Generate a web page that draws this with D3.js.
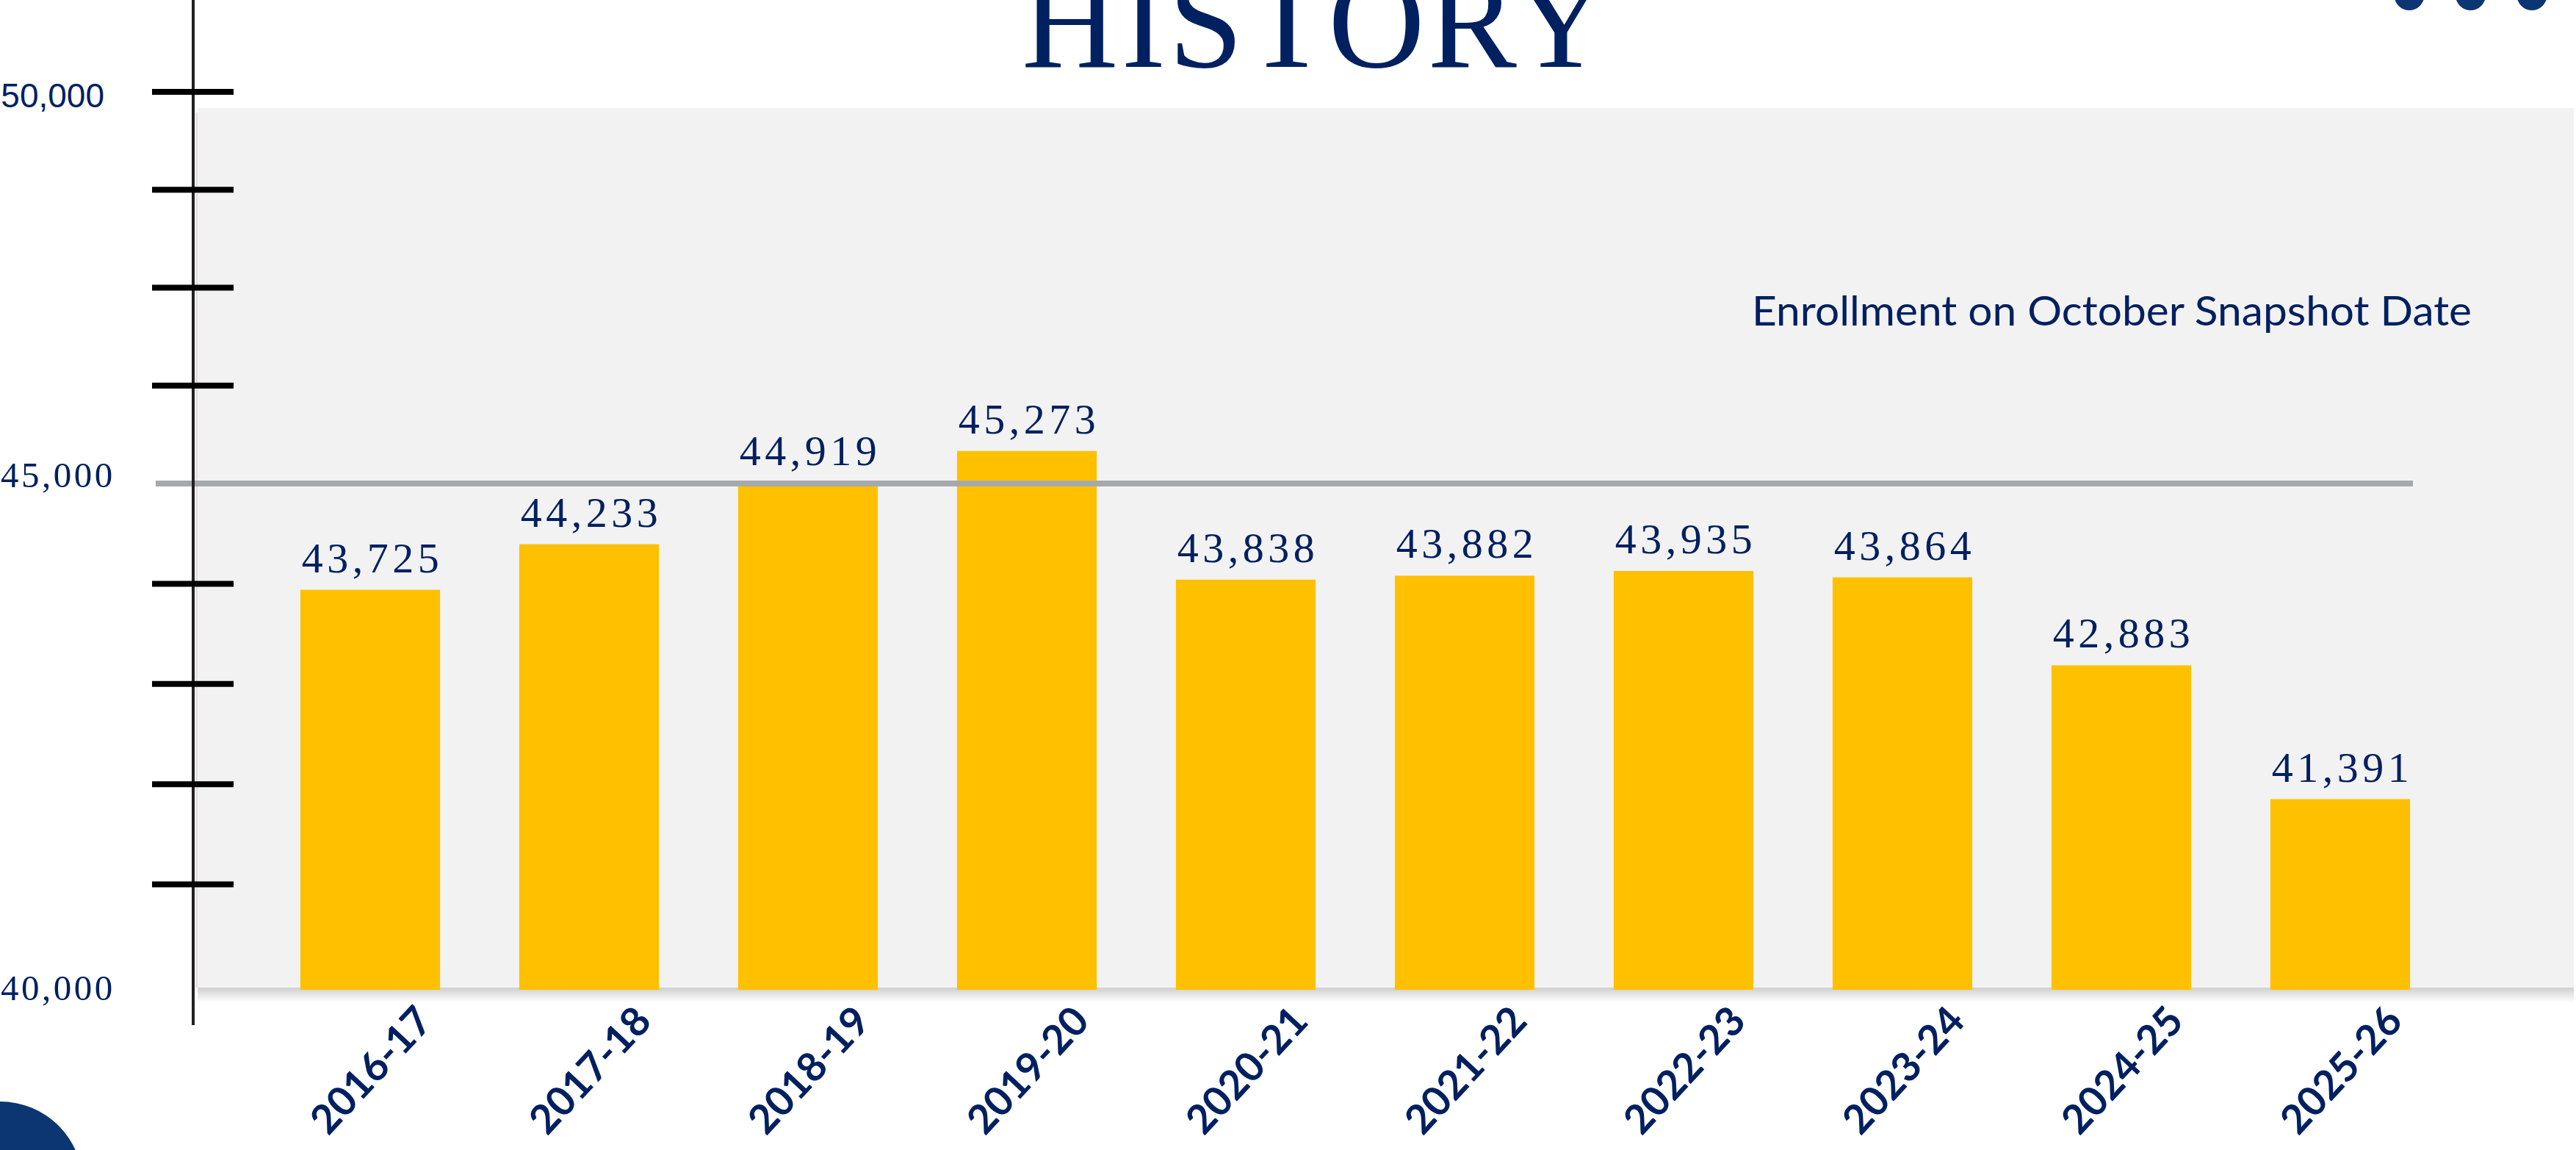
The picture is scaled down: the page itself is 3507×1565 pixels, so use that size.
<!DOCTYPE html>
<html>
<head>
<meta charset="utf-8">
<script src="https://cdn.jsdelivr.net/npm/d3@7"></script>
<style>
  html, body { margin: 0; padding: 0; background: #ffffff; }
  svg { display: block; }
</style>
</head>
<body>
<svg id="chart" width="3507" height="1565"></svg>
<script>
// ---------------- DATA ----------------
const titleText = "HISTORY";
const seriesName = "Enrollment on October Snapshot Date";
const years = ["2016-17", "2017-18", "2018-19", "2019-20", "2020-21",
               "2021-22", "2022-23", "2023-24", "2024-25", "2025-26"];
const enrollment = [43725, 44233, 44919, 45273, 43838,
                    43882, 43935, 43864, 42883, 41391];
const yTickLabels = ["50,000", "45,000", "40,000"];
const yTickLabelSlots = [0, 4, 9];      // which tick slot each label sits on
const yTickSlots = [0, 1, 2, 3, 5, 6, 7, 8]; // black tick marks (slot 4 is the 45,000 reference line)
const referenceSlot = 4;                 // 45,000 reference line
const decorDots = [0, 1, 2];

// ---------------- SETUP ----------------
const navy = "#002060";
const svg = d3.select("#chart");

const plot = { left: 269, right: 3504, top: 147, bottom: 1344 };
const barBase = 1347;

const x = d3.scaleBand()
  .domain(years)
  .range([355, 3335])
  .paddingInner(0.362)
  .paddingOuter(0.181);

// bar value scale (fitted to the drawn bar heights)
const yBar = d3.scaleLinear().domain([39265, 45000]).range([barBase, 647]);
// tick slot scale for the hand-drawn axis
const ySlot = d3.scaleLinear().domain([0, 4, 9]).range([125, 658, 1340]);

const defs = svg.append("defs");
const grad = defs.append("linearGradient").attr("id", "shadow")
  .attr("x1", 0).attr("y1", 0).attr("x2", 0).attr("y2", 1);
grad.append("stop").attr("offset", "0%").attr("stop-color", "#cfcfcf");
grad.append("stop").attr("offset", "100%").attr("stop-color", "#ffffff");

// plot background + shadow
svg.append("rect")
  .attr("x", plot.left).attr("y", plot.bottom)
  .attr("width", plot.right - plot.left).attr("height", 20)
  .attr("fill", "url(#shadow)");
svg.append("rect")
  .attr("x", plot.left - 3).attr("y", plot.top + 6)
  .attr("width", 3).attr("height", plot.bottom - plot.top - 6)
  .attr("fill", "#e3e3e3");
svg.append("rect")
  .attr("x", plot.left).attr("y", plot.top)
  .attr("width", plot.right - plot.left).attr("height", plot.bottom - plot.top)
  .attr("fill", "#f2f2f2");

// title
svg.append("text")
  .attr("x", 1391).attr("y", 91)
  .attr("font-family", "'Liberation Serif', 'Times New Roman', serif")
  .attr("font-size", 182)
  .attr("letter-spacing", 4)
  .attr("fill", navy)
  .text(titleText);

// decorative dots top-right
svg.selectAll("circle.dot").data(decorDots).enter().append("circle")
  .attr("class", "dot")
  .attr("cx", d => 3280 + d * 83.5)
  .attr("cy", -6.5)
  .attr("r", 20.5)
  .attr("fill", "#0b3671");

// decorative circle bottom-left
svg.append("circle")
  .attr("cx", 0).attr("cy", 1612).attr("r", 113)
  .attr("fill", "#0b3671");

// series label
svg.append("text")
  .attr("x", 2385).attr("y", 443)
  .attr("font-family", "Lato, 'Open Sans', sans-serif")
  .attr("font-size", 56)
  .attr("textLength", 980)
  .attr("lengthAdjust", "spacingAndGlyphs")
  .attr("fill", navy)
  .text(seriesName);

// bars
svg.selectAll("rect.bar").data(enrollment).enter().append("rect")
  .attr("class", "bar")
  .attr("x", (d, i) => x(years[i]))
  .attr("width", x.bandwidth())
  .attr("y", d => yBar(d))
  .attr("height", d => barBase - yBar(d))
  .attr("fill", "#FFC000");

// reference line at 45,000
svg.append("line")
  .attr("x1", 212).attr("x2", 3285)
  .attr("y1", ySlot(referenceSlot)).attr("y2", ySlot(referenceSlot))
  .attr("stroke", "#a5a9ab").attr("stroke-width", 8);

// y axis line
svg.append("line")
  .attr("x1", 263).attr("x2", 263)
  .attr("y1", 0).attr("y2", 1395)
  .attr("stroke", "#231f20").attr("stroke-width", 4);

// tick marks
svg.selectAll("line.tick").data(yTickSlots).enter().append("line")
  .attr("class", "tick")
  .attr("x1", 207).attr("x2", 318)
  .attr("y1", d => ySlot(d)).attr("y2", d => ySlot(d))
  .attr("stroke", "#000").attr("stroke-width", 8);

// y tick labels
svg.selectAll("text.ylab").data(yTickLabels).enter().append("text")
  .attr("class", "ylab")
  .attr("x", (d, i) => i === 0 ? 142 : 1)
  .attr("y", (d, i) => ySlot(yTickLabelSlots[i]) + (yTickLabelSlots[i] === referenceSlot ? 5 : 21))
  .attr("text-anchor", (d, i) => i === 0 ? "end" : "start")
  .attr("font-family", (d, i) => i === 0 ? "'Liberation Sans', Arial, sans-serif" : "'Liberation Serif', 'Times New Roman', serif")
  .attr("font-size", (d, i) => i === 0 ? 46 : 49)
  .attr("letter-spacing", (d, i) => i === 0 ? 0 : 3.5)
  .attr("fill", navy)
  .text(d => d);

// value labels
const fmt = d3.format(",");
svg.selectAll("text.val").data(enrollment).enter().append("text")
  .attr("class", "val")
  .attr("x", (d, i) => x(years[i]) + x.bandwidth() / 2 + 3)
  .attr("y", d => yBar(d) - 24)
  .attr("text-anchor", "middle")
  .attr("font-family", "'Liberation Serif', 'Times New Roman', serif")
  .attr("font-size", 58)
  .attr("letter-spacing", 5.5)
  .attr("fill", navy)
  .text(d => fmt(d));

// x category labels (rotated)
svg.selectAll("text.xlab").data(years).enter().append("text")
  .attr("class", "xlab")
  .attr("transform", d => `translate(${x(d) + x.bandwidth() / 2},1455) rotate(-47)`)
  .attr("text-anchor", "middle")
  .attr("dominant-baseline", "central")
  .attr("font-family", "Lato, 'Open Sans', sans-serif")
  .attr("font-weight", 700)
  .attr("font-size", 55)
  .attr("fill", navy)
  .text(d => d);
</script>
</body>
</html>
